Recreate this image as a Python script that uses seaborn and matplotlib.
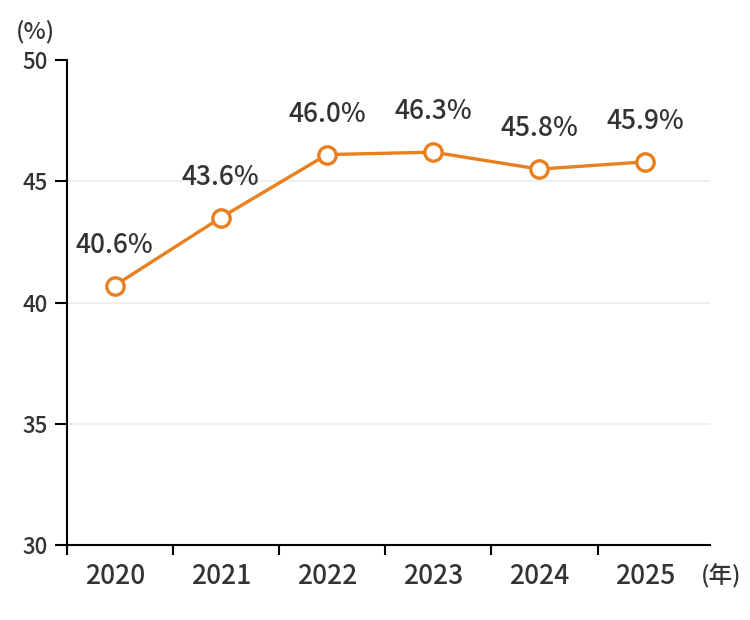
import pandas as pd
import seaborn as sns
import matplotlib.pyplot as plt

years = ['2020', '2021', '2022', '2023', '2024', '2025']
values = [40.7, 43.5, 46.1, 46.2, 45.5, 45.8]
value_labels = ['40.6%', '43.6%', '46.0%', '46.3%', '45.8%', '45.9%']
y_ticks = [30, 35, 40, 45, 50]

sns.set_style('white')
plt.rcParams['font.family'] = ['Noto Sans CJK JP', 'DejaVu Sans']
plt.rcParams['font.weight'] = 'medium'

orange = '#E8801F'
text_color = '#333333'

df = pd.DataFrame({'pos': range(len(years)), 'value': values})

fig = plt.figure(figsize=(7.5, 6.2), dpi=100)
ax = fig.add_axes([67 / 750, 1 - 545 / 620, 643 / 750, 485 / 620])

for y in [35, 40, 45]:
    ax.axhline(y, color='#ebebeb', lw=1.2, zorder=0)

sns.lineplot(data=df, x='pos', y='value', ax=ax, color=orange, lw=2.4,
             marker='o', markersize=12.5, markerfacecolor='white',
             markeredgecolor=orange, markeredgewidth=2.4, zorder=3)

for i, (v, lab) in enumerate(zip(values, value_labels)):
    ax.annotate(lab, (i, v), xytext=(0, 29), textcoords='offset points',
                ha='center', va='center', fontsize=19, color=text_color)

ax.set_xlim(-0.45, 5.61)
ax.set_ylim(30, 50)
ax.set_yticks(y_ticks)
ax.set_yticklabels([str(t) for t in y_ticks])
ax.set_xticks([i - 0.45 for i in range(len(years))])
ax.set_xticklabels([])
ax.set_xticks(range(len(years)), minor=True)
ax.set_xticklabels(years, minor=True)
ax.tick_params(axis='x', which='major', bottom=True, direction='out', length=7, width=1.5, color='black')
ax.tick_params(axis='x', which='minor', bottom=True, length=0, pad=13, labelsize=19, labelcolor=text_color)
ax.tick_params(axis='y', left=True, direction='out', length=9, width=1.5, color='black',
               labelsize=16, labelcolor=text_color, pad=5)
ax.set_xlabel('')
ax.set_ylabel('')

sns.despine(ax=ax)
ax.spines['left'].set_linewidth(1.5)
ax.spines['bottom'].set_linewidth(1.5)
ax.spines['left'].set_color('black')
ax.spines['bottom'].set_color('black')

fig.text(35 / 750, 1 - 32 / 620, '(%)', ha='center', va='center', fontsize=17, color=text_color)
fig.text(721 / 750, 1 - 576 / 620, '(年)', ha='center', va='center', fontsize=17, color=text_color)

fig.savefig('out.png', dpi=100)
